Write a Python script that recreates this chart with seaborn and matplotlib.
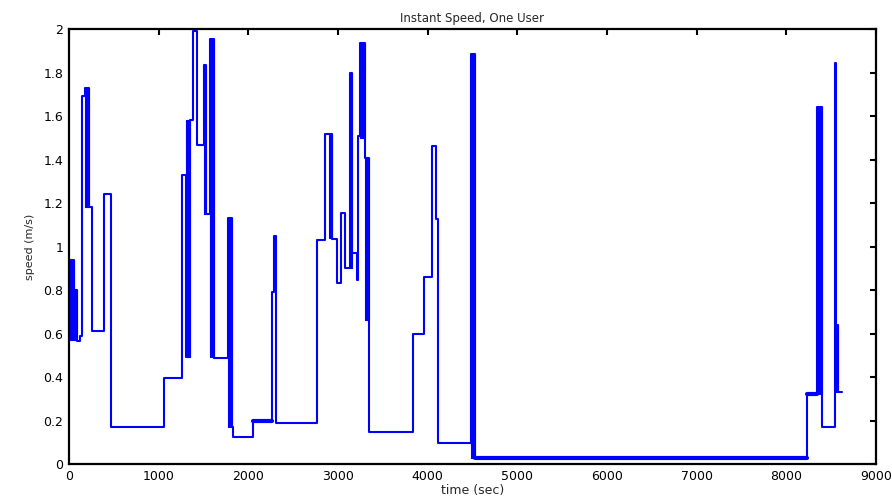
import numpy as np
import pandas as pd
import matplotlib
matplotlib.use("Agg")
import matplotlib.pyplot as plt
import seaborn as sns

# Step levels: time where each level starts (sec) and the speed (m/s)
times = [0, 15, 55, 90, 120, 141, 178, 227, 256, 394, 465, 1059, 1257, 1305, 1350,
         1383, 1424, 1505, 1528, 1572, 1617, 1770, 1815, 1830, 2056, 2260, 2285,
         2305, 2762, 2855, 2930, 2985, 3030, 3078, 3134, 3156, 3208, 3223, 3245,
         3300, 3346, 3840, 3959, 4045, 4093, 4111, 4479, 4524, 8227, 8345, 8401,
         8542, 8555, 8580, 8624]
speeds = [0.63, 0.94, 0.80, 0.567, 0.59, 1.69, 1.73, 1.18, 0.61, 1.24, 0.17, 0.395,
          1.33, 0.49, 1.58, 1.99, 1.465, 1.835, 1.15, 1.955, 0.487, 1.13, 0.17, 0.125,
          0.2, 0.79, 1.05, 0.19, 1.03, 1.517, 1.035, 0.83, 1.155, 0.9, 1.80, 0.97,
          0.846, 1.508, 1.937, 1.407, 0.149, 0.6, 0.86, 1.46, 1.127, 0.098, 1.885,
          0.026, 0.32, 1.64, 0.169, 1.845, 0.64, 0.333, 0.333]

# Dense oscillation bursts (appear as thick blue bands)
burst_start = [15, 55, 178, 1305, 1505, 1572, 1770, 2900, 3134, 3245, 3300, 4479, 8345, 8555]
burst_end = [50, 90, 227, 1350, 1528, 1617, 1815, 2930, 3156, 3300, 3346, 4524, 8401, 8580]
burst_low = [0.57, 0.57, 1.18, 0.49, 1.15, 0.49, 0.17, 1.04, 0.9, 1.5, 0.662, 0.026, 0.32, 0.333]
burst_high = [0.94, 0.80, 1.73, 1.58, 1.835, 1.955, 1.13, 1.517, 1.80, 1.937, 1.407, 1.885, 1.64, 0.64]

# Time ranges where the trace is drawn heavier
bold_start = [2056, 4524, 8227]
bold_end = [2260, 8227, 8345]

title = "Instant Speed, One User"
xlabel = "time (sec)"
ylabel = "speed (m/s)"
xticks = [0, 1000, 2000, 3000, 4000, 5000, 6000, 7000, 8000, 9000]
yticks = [0, 0.2, 0.4, 0.6, 0.8, 1, 1.2, 1.4, 1.6, 1.8, 2]
ytick_labels = ["0", "0.2", "0.4", "0.6", "0.8", "1", "1.2", "1.4", "1.6", "1.8", "2"]

sns.set_style("white")
plt.rcParams["font.family"] = ["DejaVu Sans"]

fig = plt.figure(figsize=(8.92, 4.96), dpi=100)
ax = fig.add_axes([0.0774, 0.0645, 0.9046, 0.877])

df = pd.DataFrame({"time": times, "speed": speeds})
blue = "#0000ff"
sns.lineplot(data=df, x="time", y="speed", drawstyle="steps-post", color=blue,
             linewidth=1.5, ax=ax, estimator=None, sort=False)

for s, e in zip(bold_start, bold_end):
    idx = [i for i, t in enumerate(times) if s <= t < e]
    prev = max(i for i, t in enumerate(times) if t <= s)
    sub_t = [s] + [times[i] for i in idx if times[i] > s] + [e]
    sub_v = [speeds[prev]] + [speeds[i] for i in idx if times[i] > s]
    sub_v = sub_v + [sub_v[-1]]
    sns.lineplot(x=sub_t, y=sub_v, drawstyle="steps-post", color=blue, linewidth=3,
                 ax=ax, estimator=None, sort=False)

for s, e, lo, hi in zip(burst_start, burst_end, burst_low, burst_high):
    ax.fill_between([s, e], [lo, lo], [hi, hi], color=blue, linewidth=0.8, edgecolor=blue)

ax.set_xlim(0, 9000)
ax.set_ylim(0, 2)
ax.set_xticks(xticks)
ax.set_xticklabels([str(v) for v in xticks])
ax.set_yticks(yticks)
ax.set_yticklabels(ytick_labels)
ax.tick_params(direction="in", length=4, width=1.5, top=True, right=True,
               labelsize=9, pad=4, colors="black")
for sp in ax.spines.values():
    sp.set_visible(True)
    sp.set_color("black")
    sp.set_linewidth(1.6)
ax.set_xlabel(xlabel, fontsize=9, labelpad=1)
ax.set_ylabel(ylabel, fontsize=8, labelpad=6)
ax.set_title(title, fontsize=8.5, pad=5)

fig.savefig("out.png", dpi=100)
